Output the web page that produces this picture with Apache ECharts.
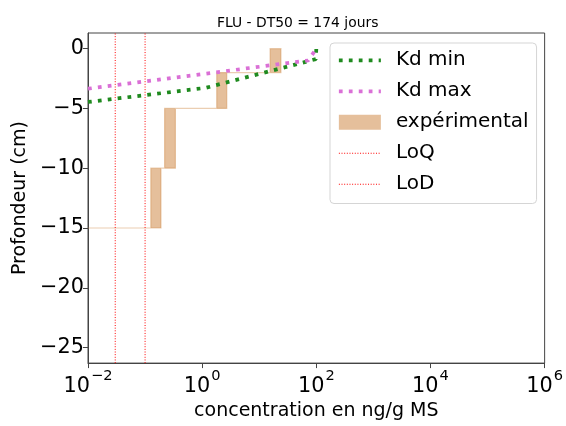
<!DOCTYPE html>
<html>
<head>
<meta charset="utf-8">
<script src="https://cdn.jsdelivr.net/npm/echarts@6/dist/echarts.min.js"></script>
<style>html,body{margin:0;padding:0;background:#fff;}#c{width:566px;height:426px;}</style>
</head>
<body>
<div id="c"></div>
<script>
// ---- data ----
var titleText = 'FLU - DT50 = 174 jours';
var xTicks = [0.01, 1, 100, 10000, 1000000];
var yTicks = [-25, -20, -15, -10, -5, 0];
// Kd curves: [concentration, depth]
var kdMin = [[0.01, -4.46], [1.15, -3.28], [98, -0.88], [100, 0]];
var kdMax = [[0.01, -3.35], [72, -0.99], [100, 0]];
// experimental layers (step profile)
var expDepths = [0, -2, -5, -10, -15];
var expLow = [15.5, 1.8, 0.22, 0.126, 0.001];
var expHigh = [24, 2.7, 0.34, 0.19, 0.001];
var loq = 0.03;
var lod = 0.1;
var yMin = -26.3, yMax = 1.31;

var FONT = 'DejaVu Sans';
var chart = echarts.init(document.getElementById('c'));

function supLabel(v) {
  var e = Math.round(Math.log10(v));
  var s = String(e).replace('-', '\u2212');
  return '{b|10}{s|' + s + '}';
}

var option = {
  animation: false,
  backgroundColor: '#fff',
  title: {
    text: titleText,
    left: 212, top: 11,
    textStyle: {fontFamily: FONT, fontSize: 13.9, fontWeight: 'normal', color: '#000'}
  },
  grid: {left: 88, right: 21, top: 33, bottom: 60, show: true, borderColor: '#444', borderWidth: 1, backgroundColor: 'transparent'},
  legend: {
    orient: 'vertical', left: 330, top: 43,
    padding: [6, 8, 8, 7],
    itemGap: 8.5,
    itemWidth: 42, itemHeight: 15,
    borderColor: '#d5d5d5', borderWidth: 1, borderRadius: 4,
    backgroundColor: 'rgba(255,255,255,0.8)',
    itemStyle: {opacity: 0},
    lineStyle: {width: 3.75},
    textStyle: {fontFamily: FONT, fontSize: 20, color: '#000', padding: [0, 0, 0, 10], lineHeight: 22.5},
    data: [
      {name: 'Kd min'},
      {name: 'Kd max'},
      {name: 'expérimental', icon: 'rect', itemStyle: {opacity: 1}},
      {name: 'LoQ', lineStyle: {width: 1, color: '#ff0000', type: [1, 1.65]}},
      {name: 'LoD', lineStyle: {width: 1, color: '#ff0000', type: [1, 1.65]}}
    ]
  },
  xAxis: {
    type: 'log', logBase: 10, min: 0.01, max: 1000000,
    name: 'concentration en ng/g MS', nameLocation: 'middle', nameGap: 36,
    nameTextStyle: {fontFamily: FONT, fontSize: 19, color: '#000'},
    axisLine: {show: true, onZero: false, lineStyle: {color: '#444', width: 1}},
    axisTick: {show: true, length: 5, inside: false, customValues: xTicks, lineStyle: {color: '#444'}},
    axisLabel: {
      customValues: xTicks, margin: 6, color: '#000',
      formatter: supLabel,
      rich: {
        b: {fontFamily: FONT, fontSize: 20.8, color: '#000', verticalAlign: 'bottom', lineHeight: 28},
        s: {fontFamily: FONT, fontSize: 14.6, color: '#000', verticalAlign: 'top', lineHeight: 28, padding: [0, 0, 10, 1]}
      }
    },
    splitLine: {show: false}, minorTick: {show: false}
  },
  yAxis: {
    type: 'value', min: yMin, max: yMax,
    name: 'Profondeur (cm)', nameLocation: 'middle', nameGap: 49,
    nameTextStyle: {fontFamily: FONT, fontSize: 19, color: '#000'},
    axisLine: {show: true, onZero: false, lineStyle: {color: '#444', width: 1}},
    axisTick: {show: true, length: 5, customValues: yTicks, lineStyle: {color: '#444'}},
    axisLabel: {
      customValues: yTicks, margin: 4, color: '#000', fontFamily: FONT, fontSize: 20.8,
      formatter: function (v) { return String(Math.round(v)).replace('-', '\u2212'); }
    },
    splitLine: {show: false}
  },
  series: [
    {
      name: 'Kd min', type: 'line', data: kdMin, symbol: 'none', z: 3, clip: true,
      color: '#1f8a1f',
      lineStyle: {color: '#1f8a1f', width: 3.75, type: [3.75, 6.2], cap: 'butt'}
    },
    {
      name: 'Kd max', type: 'line', data: kdMax, symbol: 'none', z: 3, clip: true,
      color: '#da70d6',
      lineStyle: {color: '#da70d6', width: 3.75, type: [3.75, 6.2], cap: 'butt'}
    },
    {
      name: 'expérimental', type: 'custom', z: 2, clip: true,
      color: 'rgba(205,133,63,0.52)',
      data: [[0, 0]],
      renderItem: function (params, api) {
        var pts = [];
        var i;
        for (i = 0; i < expDepths.length; i++) {
          pts.push(api.coord([expLow[i], expDepths[i]]));
          if (i + 1 < expDepths.length) pts.push(api.coord([expLow[i], expDepths[i + 1]]));
        }
        for (i = expDepths.length - 1; i >= 0; i--) {
          if (i + 1 < expDepths.length) pts.push(api.coord([expHigh[i], expDepths[i + 1]]));
          pts.push(api.coord([expHigh[i], expDepths[i]]));
        }
        var cs = params.coordSys;
        return {
          type: 'polygon',
          shape: {points: pts},
          clipPath: {type: 'rect', shape: {x: cs.x, y: cs.y, width: cs.width, height: cs.height}},
          style: {fill: 'rgba(205,133,63,0.52)', stroke: 'rgba(205,133,63,0.4)', lineWidth: 1.2}
        };
      }
    },
    {
      name: 'LoQ', type: 'line', data: [[loq, yMin], [loq, yMax]], symbol: 'none', z: 4,
      color: '#ff0000',
      lineStyle: {color: '#ff0000', width: 1, type: [1, 1.65]}
    },
    {
      name: 'LoD', type: 'line', data: [[lod, yMin], [lod, yMax]], symbol: 'none', z: 4,
      color: '#ff0000',
      lineStyle: {color: '#ff0000', width: 1, type: [1, 1.65]}
    }
  ]
};
chart.setOption(option);
</script>
</body>
</html>
